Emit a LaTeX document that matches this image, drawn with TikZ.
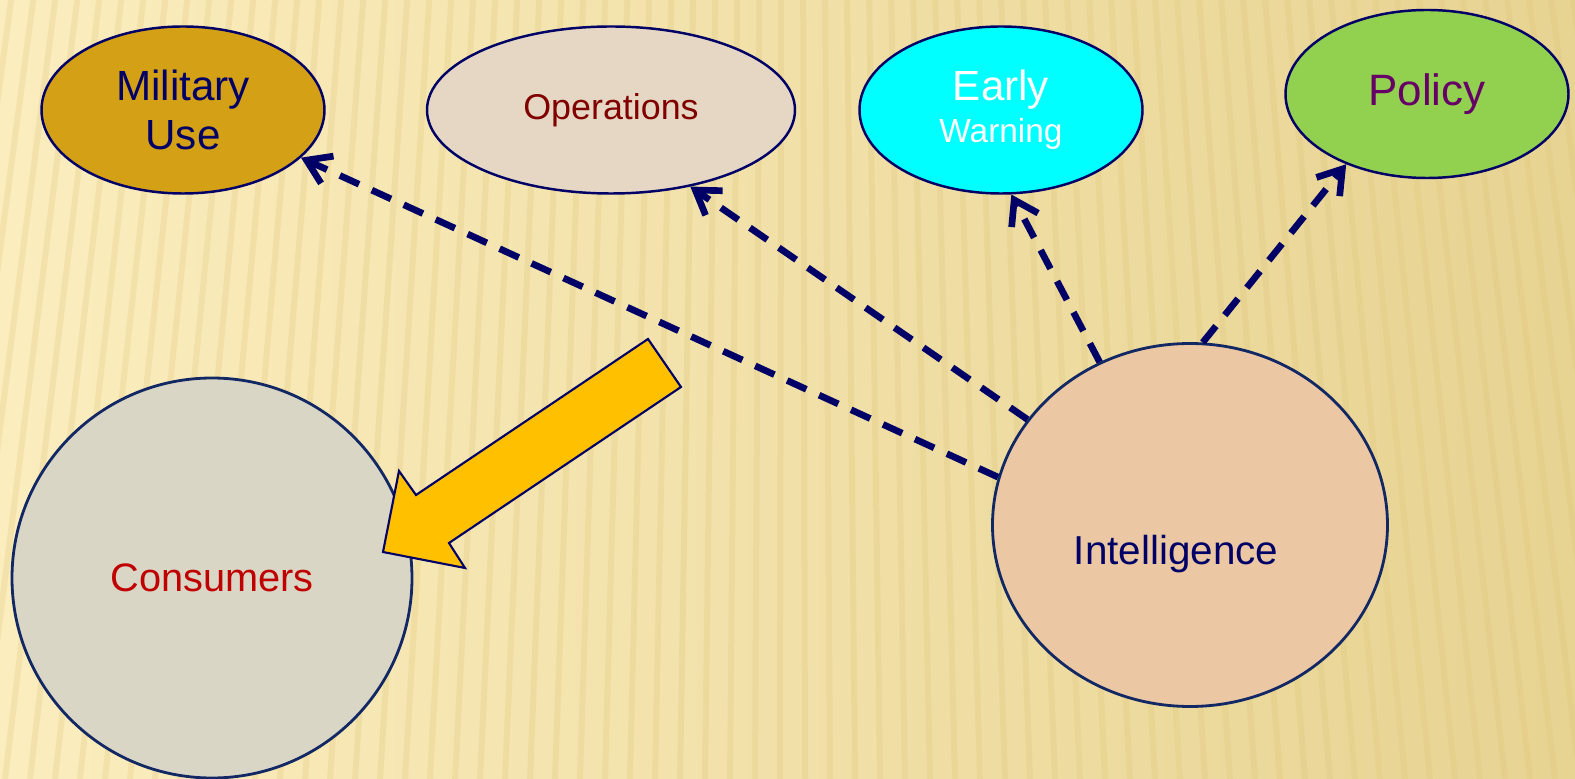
\documentclass[tikz,border=0pt]{standalone}
\usepackage{fontspec}
\setmainfont{Liberation Sans}
\usepackage{xcolor}
\usepackage{tikz}
\usetikzlibrary{arrows.meta,shapes.geometric}

\definecolor{rim}{RGB}{0,0,102}
\definecolor{ring}{RGB}{18,40,100}
\definecolor{navytext}{RGB}{0,0,102}
\definecolor{goldfill}{RGB}{212,160,22}
\definecolor{opsfill}{RGB}{230,215,197}
\definecolor{opstext}{RGB}{128,0,0}
\definecolor{warnfill}{RGB}{0,255,255}
\definecolor{policyfill}{RGB}{146,208,80}
\definecolor{policytext}{RGB}{102,0,102}
\definecolor{consfill}{RGB}{218,214,198}
\definecolor{constext}{RGB}{192,0,0}
\definecolor{intelfill}{RGB}{235,200,163}
\definecolor{blockarrow}{RGB}{255,192,0}
\definecolor{paper}{RGB}{255,243,206}
\definecolor{paperleft}{RGB}{251,237,190}
\definecolor{paperright}{RGB}{231,211,146}
\definecolor{stripe}{RGB}{222,196,118}

\begin{document}
\begin{tikzpicture}[
  x=1cm,
  y=1cm,
  user/.style={ellipse, draw=rim, line width=0.7pt, inner sep=0pt,
    minimum width=2.83cm, minimum height=1.67cm, align=center},
  party/.style={ellipse, draw=ring, line width=0.8pt, inner sep=0pt},
  feed/.style={draw=rim, line width=1.9pt, dash pattern=on 6pt off 4pt,
    -{Straight Barb[length=6.5pt,width=8.5pt]}},
  hand/.style={draw=rim, line width=0.6pt, fill=blockarrow, line join=miter}
]
  % backdrop: soft gradient with fanned stripes
  \useasboundingbox (0,0) rectangle (15.75,7.79);
  \shade[left color=paperleft, middle color=paper, right color=paperright]
    (0,0) rectangle (15.75,7.79);
  \begin{scope}
    \clip (0,0) rectangle (15.75,7.79);
    \foreach \x in {-1.2,-0.95,...,17.2}
      \draw[stripe, line width=0.06cm, opacity=0.25]
        (\x,0) -- ({\x+(7.9-\x)*0.12},7.79);
  \end{scope}

  % consumers of the product
  \node[user, fill=goldfill, text=navytext, font=\fontsize{12}{13.7}\selectfont]
    (mil) at (1.83,6.69) {Military\\Use};
  \node[user, fill=opsfill, text=opstext, minimum width=3.68cm,
    font=\fontsize{10.2}{12}\selectfont] (ops) at (6.11,6.69) {Operations};
  \node[user, fill=warnfill, text=white] (early) at (10.01,6.69)
    {{\fontsize{12}{14.2}\selectfont Early}\\{\fontsize{9.5}{14.2}\selectfont Warning}};
  \node[user, fill=policyfill, text=policytext, minimum height=1.68cm,
    font=\fontsize{12.5}{14}\selectfont] (pol) at (14.27,6.85) {Policy};

  % the two main parties
  \node[party, fill=consfill, text=constext, minimum width=4cm, minimum height=4cm,
    font=\fontsize{11.3}{13}\selectfont] (cons) at (2.12,2.01) {Consumers};
  \node[party, fill=intelfill, minimum width=3.95cm, minimum height=3.63cm]
    (intel) at (11.90,2.54) {};
  \node[text=navytext, font=\fontsize{11.5}{13}\selectfont]
    (intelTxt) at (11.76,2.25) {Intelligence};

  % dashed feeds out of intelligence
  \draw[feed] (intel.166.5) -- (mil.-22);
  \draw[feed] (intel.147) -- (ops.-44);
  \draw[feed] (intel.119) -- (early.-83);
  \draw[feed] (intel.86) -- (pol.-139);

  % big block arrow into consumers
  \draw[hand] (6.48,4.40) -- (6.81,3.92) -- (4.49,2.36) -- (4.65,2.11)
    -- (3.83,2.27) -- (3.99,3.08) -- (4.16,2.84) -- cycle;
\end{tikzpicture}
\end{document}
